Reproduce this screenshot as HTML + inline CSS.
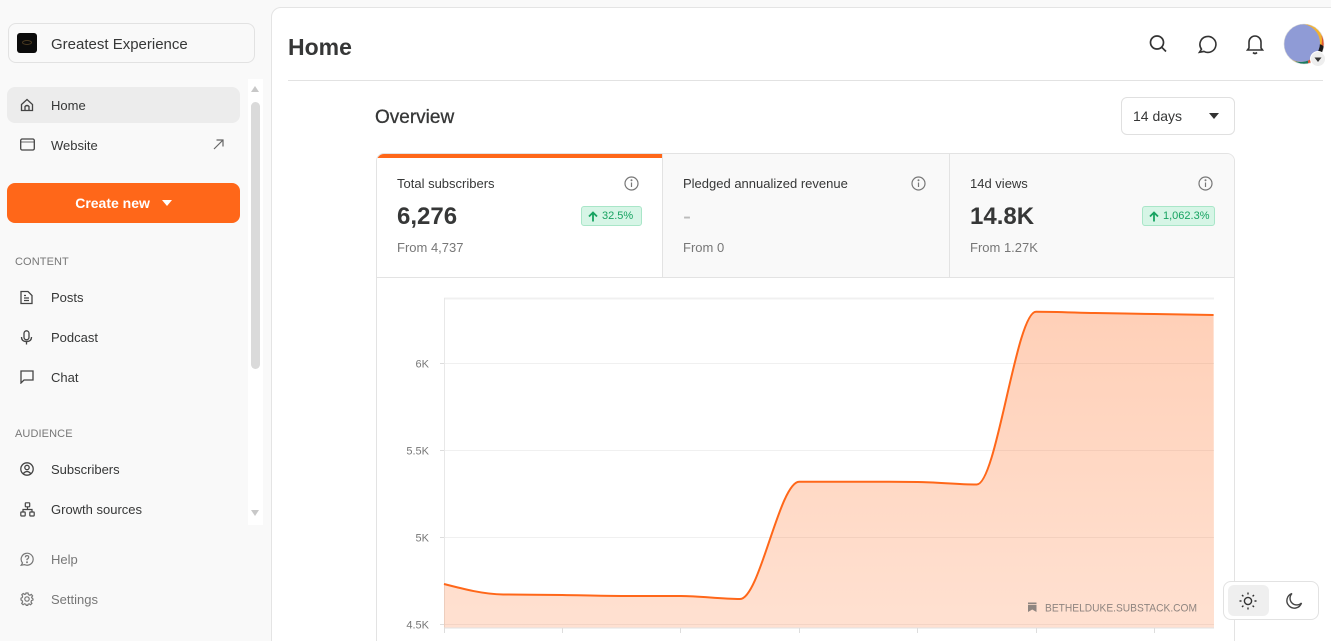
<!DOCTYPE html>
<html><head><meta charset="utf-8">
<style>
*{box-sizing:border-box;margin:0;padding:0}
html,body{width:1331px;height:641px;overflow:hidden;background:#f9f9f9;font-family:"Liberation Sans",sans-serif;color:#363737}
#root{position:relative;width:1331px;height:641px;overflow:hidden;background:#f9f9f9}
.abs{position:absolute}
.side-item{position:absolute;left:7px;width:233px;height:36px;border-radius:8px;font-size:13px;line-height:38px;padding-left:44px}
.side-item svg{position:absolute;left:13px;top:11px}
.sect{position:absolute;left:15px;font-size:11px;color:#777;letter-spacing:0.1px}
.panel{position:absolute;left:271px;top:7px;width:1080px;height:660px;background:#fff;border:1px solid #e4e4e4;border-radius:10px}
.card{position:absolute;left:376px;top:153px;width:859px;height:520px;border:1px solid #e3e3e3;border-radius:8px;overflow:hidden;background:#fff}
.col{position:absolute;top:0;height:124px;border-bottom:1px solid #e3e3e3}
.lab{position:absolute;left:20px;top:22px;font-size:13px;color:#363737}
.val{position:absolute;left:20px;top:49px;font-size:24px;font-weight:bold;color:#363737}
.from{position:absolute;left:20px;top:86px;font-size:13px;color:#777}
.info{position:absolute;top:22px}
.badge{position:absolute;top:52px;height:20px;border:1px solid #a9e6c8;background:#d6f5e6;border-radius:3px;color:#17a361;font-size:11px;line-height:18px;padding-left:20px}
.badge svg{position:absolute;left:6px;top:4px}
</style></head><body>
<div id="root">

<!-- Sidebar -->
<div class="abs" style="left:8px;top:23px;width:247px;height:40px;border:1px solid #e2e2e2;border-radius:8px;background:#f9f9f9"></div>
<div class="abs" style="left:17px;top:33px;width:20px;height:20px;background:#0b0b0b;border-radius:3px"></div>
<div class="abs" style="left:22px;top:40px;width:10px;height:5px;border:1px solid #4a3a20;border-radius:50%"></div>
<div class="abs" style="left:51px;top:35px;font-size:15px;line-height:20px;color:#363737">Greatest Experience</div>

<!-- scrollbar -->
<div class="abs" style="left:248px;top:79px;width:15px;height:446px;background:#fff"></div>
<div class="abs" style="left:251px;top:86px;width:0;height:0;border-left:4.5px solid transparent;border-right:4.5px solid transparent;border-bottom:6px solid #c8c8c8"></div>
<div class="abs" style="left:251px;top:102px;width:9px;height:267px;background:#dadada;border-radius:5px"></div>
<div class="abs" style="left:251px;top:510px;width:0;height:0;border-left:4.5px solid transparent;border-right:4.5px solid transparent;border-top:6px solid #c8c8c8"></div>

<div class="side-item" style="top:87px;background:#ececec">
<svg width="14" height="14" viewBox="0 0 14 14" fill="none" stroke="#444" stroke-width="1.3"><path d="M1.5 6.5 L7 1.5 L12.5 6.5 V12.5 H1.5 Z"/><path d="M5 12.5 V8.5 Q7 6.5 9 8.5 V12.5"/></svg>Home</div>
<div class="side-item" style="top:127px">
<svg width="15" height="13" viewBox="0 0 15 13" fill="none" stroke="#444" stroke-width="1.3"><rect x="0.7" y="1" width="13.6" height="11" rx="1.5"/><path d="M0.7 4H14.3" stroke-width="0.8"/></svg>Website
<span class="abs" style="left:206px;top:0;font-size:13px;color:#666">
<svg style="position:absolute;left:0;top:12px" width="11" height="11" viewBox="0 0 11 11" fill="none" stroke="#666" stroke-width="1.2"><path d="M1 10 L10 1 M3.5 1 H10 V7.5"/></svg></span></div>

<div class="abs" style="left:7px;top:183px;width:233px;height:40px;background:#ff6719;border-radius:8px;color:#fff;font-size:14px;font-weight:bold;line-height:41px;text-align:center">Create new <span style="display:inline-block;width:0;height:0;border-left:5px solid transparent;border-right:5px solid transparent;border-top:6px solid #fff;margin-left:8px;vertical-align:2px"></span></div>

<div class="sect" style="top:256px">CONTENT</div>
<div class="side-item" style="top:279px">
<svg width="13" height="15" viewBox="0 0 13 15" fill="none" stroke="#444" stroke-width="1.3"><path d="M1 1.5 H8 L12 5.5 V13.5 H1 Z"/><path d="M4 8 H9 M4 10.5 H9 M4 5.5 H6"/></svg>Posts</div>
<div class="side-item" style="top:319px">
<svg width="13" height="15" viewBox="0 0 13 15" fill="none" stroke="#444" stroke-width="1.3"><rect x="4" y="0.8" width="5" height="9" rx="2.5"/><path d="M1.5 7 Q1.5 11.5 6.5 11.5 Q11.5 11.5 11.5 7 M6.5 11.5 V14.5"/></svg>Podcast</div>
<div class="side-item" style="top:359px">
<svg width="14" height="14" viewBox="0 0 14 14" fill="none" stroke="#444" stroke-width="1.3"><path d="M1 1 H13 V10 H4 L1 13 Z"/></svg>Chat</div>

<div class="sect" style="top:428px">AUDIENCE</div>
<div class="side-item" style="top:451px">
<svg width="14" height="14" viewBox="0 0 14 14" fill="none" stroke="#444" stroke-width="1.3"><circle cx="7" cy="7" r="6.2"/><circle cx="7" cy="5.5" r="2.2"/><path d="M3.3 11.5 Q7 7.5 10.7 11.5"/></svg>Subscribers</div>
<div class="side-item" style="top:491px">
<svg width="15" height="15" viewBox="0 0 15 15" fill="none" stroke="#444" stroke-width="1.2"><rect x="5.3" y="0.8" width="4.4" height="4" rx="0.6"/><rect x="0.8" y="10" width="4.4" height="4" rx="0.6"/><rect x="9.8" y="10" width="4.4" height="4" rx="0.6"/><path d="M7.5 4.8 V7.5 M3 10 V7.5 H12 V10"/></svg>Growth sources</div>

<div class="side-item" style="top:541px;color:#777">
<svg width="14" height="14" viewBox="0 0 14 14" fill="none" stroke="#777" stroke-width="1.2"><path d="M2.5 11 A6 6 0 1 1 4.5 12.6 L1.2 13.2 Z"/><path d="M5.3 5.3 Q5.5 3.5 7.2 3.6 Q8.9 3.8 8.7 5.4 Q8.5 6.5 7 7.3 V8.3"/><circle cx="7" cy="10.2" r="0.4"/></svg>Help</div>
<div class="side-item" style="top:581px;color:#777">
<svg width="14" height="14" viewBox="0 0 14 14" fill="none" stroke="#777" stroke-width="1.2"><circle cx="7" cy="7" r="2.2"/><path d="M6 1 H8 L8.4 2.6 L9.9 3.3 L11.3 2.4 L12.6 3.9 L11.6 5.3 L12.2 6.2 L13 7 V8 L11.5 8.6 L11 10 L11.9 11.4 L10.5 12.7 L9.1 11.8 L8 12.3 L7.7 13.5 H6.3 L5.9 12.3 L4.5 11.8 L3.1 12.7 L1.7 11.4 L2.6 10 L2.1 8.6 L1 8 V6.2 L2.3 5.5 L2.6 4.1 L1.8 2.7 L3.2 1.5 L4.6 2.4 L5.7 2 Z"/></svg>Settings</div>

<!-- Main panel -->
<div class="panel"></div>
<div class="abs" style="left:288px;top:32px;font-size:23px;font-weight:bold;line-height:30px;color:#363737">Home</div>
<div class="abs" style="left:288px;top:80px;width:1035px;height:1px;background:#e2e2e2"></div>

<!-- header icons -->
<svg class="abs" style="left:1148px;top:34px" width="20" height="20" viewBox="0 0 20 20" fill="none" stroke="#333" stroke-width="1.7"><circle cx="9" cy="8.5" r="6.5"/><path d="M13.8 13.3 L18 17.5"/></svg>
<svg class="abs" style="left:1197px;top:34px" width="20" height="20" viewBox="0 0 20 20" fill="none" stroke="#333" stroke-width="1.6"><path d="M4.5 15.2 A8 8 0 1 1 7 17.4 L2.5 18.2 Z"/></svg>
<svg class="abs" style="left:1245px;top:33px" width="20" height="22" viewBox="0 0 20 22" fill="none" stroke="#333" stroke-width="1.6"><path d="M4 15 V9 A6 6 0 0 1 16 9 V15 L17.5 17 H2.5 Z"/><path d="M8 19.5 Q10 21.5 12 19.5"/></svg>
<svg class="abs" style="left:1282px;top:22px" width="49" height="48" viewBox="0 0 49 48">
<defs><clipPath id="av"><circle cx="22" cy="22" r="20"/></clipPath></defs>
<g clip-path="url(#av)">
<rect x="0" y="0" width="44" height="44" fill="#1d7a5f"/>
<rect x="26" y="0" width="20" height="44" fill="#e0552f"/>
<circle cx="18" cy="18" r="22" fill="#f2b230"/>
<circle cx="36" cy="30" r="8" fill="#1a1a1a"/>
<circle cx="19" cy="21" r="19" fill="#8f9bd6"/>
</g>
<circle cx="22" cy="22" r="20" fill="none" stroke="#ddd" stroke-width="0.6"/>
<circle cx="36" cy="37" r="7.5" fill="#eee" stroke="#fff" stroke-width="1"/>
<path d="M32.5 35.5 H39.5 L36 40 Z" fill="#333"/>
</svg>

<!-- Overview -->
<div class="abs" style="left:375px;top:107px;font-size:19px;line-height:22px;color:#363737;-webkit-text-stroke:0.3px #363737">Overview</div>
<div class="abs" style="left:1121px;top:97px;width:114px;height:38px;border:1px solid #e0e0e0;border-radius:6px;background:#fff"></div>
<div class="abs" style="left:1133px;top:107px;font-size:14px;line-height:19px;color:#363737">14 days</div>
<div class="abs" style="left:1209px;top:113px;width:0;height:0;border-left:5px solid transparent;border-right:5px solid transparent;border-top:6px solid #333"></div>

<!-- Card -->
<div class="card">
  <div class="col" style="left:0;width:285px;background:#fff">
    <div class="abs" style="left:0;top:0;width:285px;height:4px;background:#ff6719"></div>
    <div class="lab">Total subscribers</div>
    <svg class="info" style="left:247px" width="15" height="15" viewBox="0 0 15 15" fill="none" stroke="#777" stroke-width="1.2"><circle cx="7.5" cy="7.5" r="6.5"/><path d="M7.5 6.5 V11"/><circle cx="7.5" cy="4.3" r="0.4" fill="#777"/></svg>
    <div class="val">6,276</div>
    <div class="badge" style="left:204px;width:61px">
      <svg width="10" height="11" viewBox="0 0 10 11" fill="none" stroke="#17a361" stroke-width="1.8"><path d="M5 10.5 V1.5 M1 5.5 L5 1.5 L9 5.5"/></svg>32.5%</div>
    <div class="from">From 4,737</div>
  </div>
  <div class="col" style="left:285px;width:287px;background:#f9f9f9;border-left:1px solid #e3e3e3">
    <div class="lab">Pledged annualized revenue</div>
    <svg class="info" style="left:248px" width="15" height="15" viewBox="0 0 15 15" fill="none" stroke="#777" stroke-width="1.2"><circle cx="7.5" cy="7.5" r="6.5"/><path d="M7.5 6.5 V11"/><circle cx="7.5" cy="4.3" r="0.4" fill="#777"/></svg>
    <div class="val" style="color:#bbb;font-weight:normal;top:49px">-</div>
    <div class="from">From 0</div>
  </div>
  <div class="col" style="left:572px;width:287px;background:#f9f9f9;border-left:1px solid #e3e3e3">
    <div class="lab">14d views</div>
    <svg class="info" style="left:248px" width="15" height="15" viewBox="0 0 15 15" fill="none" stroke="#777" stroke-width="1.2"><circle cx="7.5" cy="7.5" r="6.5"/><path d="M7.5 6.5 V11"/><circle cx="7.5" cy="4.3" r="0.4" fill="#777"/></svg>
    <div class="val">14.8K</div>
    <div class="badge" style="left:192px;width:73px">
      <svg width="10" height="11" viewBox="0 0 10 11" fill="none" stroke="#17a361" stroke-width="1.8"><path d="M5 10.5 V1.5 M1 5.5 L5 1.5 L9 5.5"/></svg>1,062.3%</div>
    <div class="from">From 1.27K</div>
  </div>
</div>

<!-- Chart -->
<svg class="abs" style="left:0;top:0" width="1331" height="641" viewBox="0 0 1331 641">
<defs>
<linearGradient id="fg" x1="0" y1="311" x2="0" y2="628" gradientUnits="userSpaceOnUse">
<stop offset="0" stop-color="#ff6719" stop-opacity="0.31"/>
<stop offset="1" stop-color="#ff6719" stop-opacity="0.2"/>
</linearGradient>
</defs>
<g stroke="#f0f0f0" stroke-width="1">
<line x1="444" y1="298.5" x2="1214" y2="298.5" stroke-width="2"/>
<line x1="444" y1="363.5" x2="1214" y2="363.5"/>
<line x1="444" y1="450.5" x2="1214" y2="450.5"/>
<line x1="444" y1="537.5" x2="1214" y2="537.5"/>
<line x1="444" y1="624.5" x2="1214" y2="624.5"/>
<line x1="440" y1="363.5" x2="444" y2="363.5" stroke="#ddd"/>
<line x1="440" y1="450.5" x2="444" y2="450.5" stroke="#ddd"/>
<line x1="440" y1="537.5" x2="444" y2="537.5" stroke="#ddd"/>
<line x1="440" y1="624.5" x2="444" y2="624.5" stroke="#ddd"/>
</g>
<line x1="444.5" y1="298" x2="444.5" y2="632" stroke="#e8e8e8"/>
<path d="M444,584 C463.7,589.1 483.5,594.2 503.2,594.5 C522.9,594.8 542.7,594.8 562.4,595 C582.1,595.3 601.9,596 621.6,596 C641.3,596 661.1,596 680.8,596 C700.5,596 720.3,599 740,599 C759.7,599 779.5,481.7 799.2,481.7 C818.9,481.7 838.7,481.7 858.4,481.7 C878.1,481.7 897.9,481.8 917.6,482 C937.3,482.2 957.1,484.5 976.8,484.5 C996.5,484.5 1016.3,311.7 1036,311.7 C1055.7,311.7 1075.5,312.6 1095.2,313 C1114.9,313.4 1134.7,313.7 1154.4,314 C1174.1,314.3 1193.9,314.7 1213.6,315 L1214,628 L444,628 Z" fill="url(#fg)"/>
<path d="M444,584 C463.7,589.1 483.5,594.2 503.2,594.5 C522.9,594.8 542.7,594.8 562.4,595 C582.1,595.3 601.9,596 621.6,596 C641.3,596 661.1,596 680.8,596 C700.5,596 720.3,599 740,599 C759.7,599 779.5,481.7 799.2,481.7 C818.9,481.7 838.7,481.7 858.4,481.7 C878.1,481.7 897.9,481.8 917.6,482 C937.3,482.2 957.1,484.5 976.8,484.5 C996.5,484.5 1016.3,311.7 1036,311.7 C1055.7,311.7 1075.5,312.6 1095.2,313 C1114.9,313.4 1134.7,313.7 1154.4,314 C1174.1,314.3 1193.9,314.7 1213.6,315" fill="none" stroke="#ff6719" stroke-width="2"/>
<line x1="444" y1="628" x2="1214" y2="628" stroke="#e2e2e2"/>
<g stroke="#ddd">
<line x1="444.5" y1="628" x2="444.5" y2="633"/>
<line x1="562.5" y1="628" x2="562.5" y2="633"/>
<line x1="680.5" y1="628" x2="680.5" y2="633"/>
<line x1="799.5" y1="628" x2="799.5" y2="633"/>
<line x1="917.5" y1="628" x2="917.5" y2="633"/>
<line x1="1036.5" y1="628" x2="1036.5" y2="633"/>
<line x1="1154.5" y1="628" x2="1154.5" y2="633"/>
</g>
<g font-family="Liberation Sans, sans-serif" font-size="11" fill="#777" text-anchor="end">
<text x="429" y="367.5">6K</text>
<text x="429" y="454.5">5.5K</text>
<text x="429" y="541.5">5K</text>
<text x="429" y="628.5">4.5K</text>
</g>
<path d="M1028 602.5 H1036.5 V612 L1032.25 609.5 L1028 612 Z" fill="#8f8580"/>
<line x1="1028" y1="604.5" x2="1036.5" y2="604.5" stroke="#fcdccb" stroke-width="0.8"/>
<text x="1045" y="611.5" font-family="Liberation Sans, sans-serif" font-size="11" fill="#8f8580" textLength="152" lengthAdjust="spacingAndGlyphs">BETHELDUKE.SUBSTACK.COM</text>
</svg>

<!-- theme toggle -->
<div class="abs" style="left:1223px;top:581px;width:96px;height:39px;border:1px solid #e2e2e2;border-radius:8px;background:#fff"></div>
<div class="abs" style="left:1228px;top:585px;width:41px;height:31px;background:#efefef;border-radius:6px"></div>
<svg class="abs" style="left:1238px;top:591px" width="20" height="20" viewBox="0 0 20 20" fill="none" stroke="#333" stroke-width="1.4"><circle cx="10" cy="10" r="3.6"/><path d="M10 1.5 V3.5 M10 16.5 V18.5 M1.5 10 H3.5 M16.5 10 H18.5 M4 4 L5.4 5.4 M14.6 14.6 L16 16 M4 16 L5.4 14.6 M14.6 5.4 L16 4"/></svg>
<svg class="abs" style="left:1284px;top:591px" width="20" height="20" viewBox="0 0 20 20" fill="none" stroke="#444" stroke-width="1.4"><path d="M8 2.5 A7.5 7.5 0 1 0 17.5 12 A6 6 0 0 1 8 2.5 Z"/></svg>

</div>
</body></html>
